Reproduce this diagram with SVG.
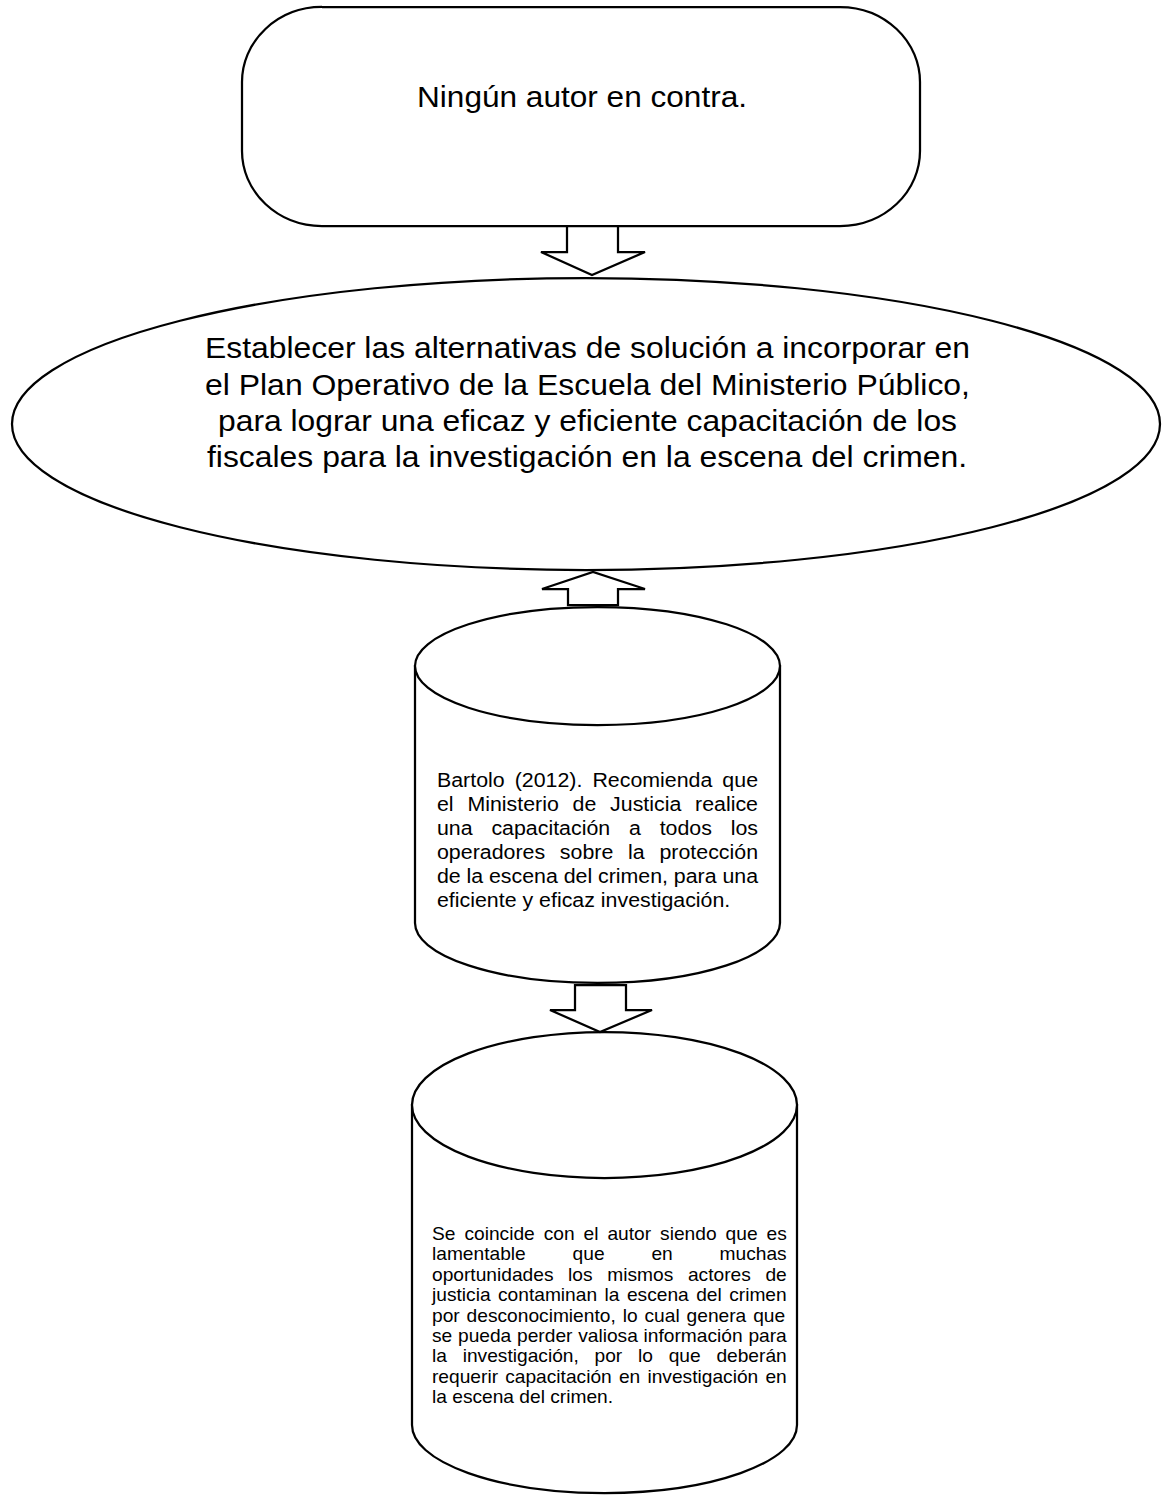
<svg xmlns="http://www.w3.org/2000/svg" width="1163" height="1496" viewBox="0 0 1163 1496">
<style>
.shape{fill:#fff;stroke:#000;stroke-width:2.25}
.arrow{fill:#fff;stroke:#000;stroke-width:2.25;stroke-linejoin:miter}
text{font-family:"Liberation Sans",Arial,sans-serif;fill:#000}
.big{font-size:30px}
.c1{font-size:19.6px}
.c2{font-size:17.6px}
</style>
<rect width="1163" height="1496" fill="#fff"/>
<g id="node-top">
<rect class="shape" x="242" y="7" width="678" height="219" rx="80" ry="75"/>
<text x="417" y="107" font-size="29.5" textLength="330" lengthAdjust="spacingAndGlyphs">Ningún autor en contra.</text>
</g>
<g id="node-ellipse">
<ellipse class="shape" cx="586" cy="424" rx="574" ry="146"/>
<text class="big" x="205" y="358" textLength="765" lengthAdjust="spacingAndGlyphs">Establecer las alternativas de solución a incorporar en</text>
<text class="big" x="205" y="394.5" textLength="765" lengthAdjust="spacingAndGlyphs">el Plan Operativo de la Escuela del Ministerio Público,</text>
<text class="big" x="218" y="430.5" textLength="739" lengthAdjust="spacingAndGlyphs">para lograr una eficaz y eficiente capacitación de los</text>
<text class="big" x="207" y="466.5" textLength="760" lengthAdjust="spacingAndGlyphs">fiscales para la investigación en la escena del crimen.</text>
</g>
<g id="node-cyl1">
<path class="shape" d="M415,666 L415,923 A182.5,60 0 0 0 780,923 L780,666 Z"/>
<ellipse class="shape" cx="597.5" cy="666" rx="182.5" ry="59"/>
<g transform="matrix(1.09 0 0 1 -39.33 0)" class="c1">
<text x="437" y="787" word-spacing="3.75">Bartolo (2012). Recomienda que</text>
<text x="437" y="811" word-spacing="7.18">el Ministerio de Justicia realice</text>
<text x="437" y="835" word-spacing="11.8">una capacitación a todos los</text>
<text x="437" y="859" word-spacing="8.12">operadores sobre la protección</text>
<text x="437" y="883" word-spacing="-0.12">de la escena del crimen, para una</text>
<text x="437" y="907">eficiente y eficaz investigación.</text>
</g>
</g>
<g id="node-cyl2">
<path class="shape" d="M412,1105 L412,1425 A192.5,68 0 0 0 797,1425 L797,1105 Z"/>
<ellipse class="shape" cx="604.5" cy="1105" rx="192.5" ry="73"/>
<g transform="matrix(1.09 0 0 1 -38.88 0)" class="c2">
<text x="432" y="1240" word-spacing="3.35">Se coincide con el autor siendo que es</text>
<text x="432" y="1260.4" word-spacing="38.1">lamentable que en muchas</text>
<text x="432" y="1280.8" word-spacing="8.56">oportunidades los mismos actores de</text>
<text x="432" y="1301.2" word-spacing="1.95">justicia contaminan la escena del crimen</text>
<text x="432" y="1321.6" word-spacing="1.46">por desconocimiento, lo cual genera que</text>
<text x="432" y="1342" word-spacing="0.39">se pueda perder valiosa información para</text>
<text x="432" y="1362.4" word-spacing="9.57">la investigación, por lo que deberán</text>
<text x="432" y="1382.8" word-spacing="1.71">requerir capacitación en investigación en</text>
<text x="432" y="1403.2">la escena del crimen.</text>
</g>
</g>
<g id="connectors">
<polygon class="arrow" points="567,226 618,226 618,252 645,252 592,275 541,252 567,252"/>
<polygon class="arrow" points="568,605 618,605 618,589 645,589 593,572 542,589 568,589"/>
<polygon class="arrow" points="575,985 626,985 626,1010 652,1010 600,1032 550,1010 575,1010"/>
</g>
</svg>
